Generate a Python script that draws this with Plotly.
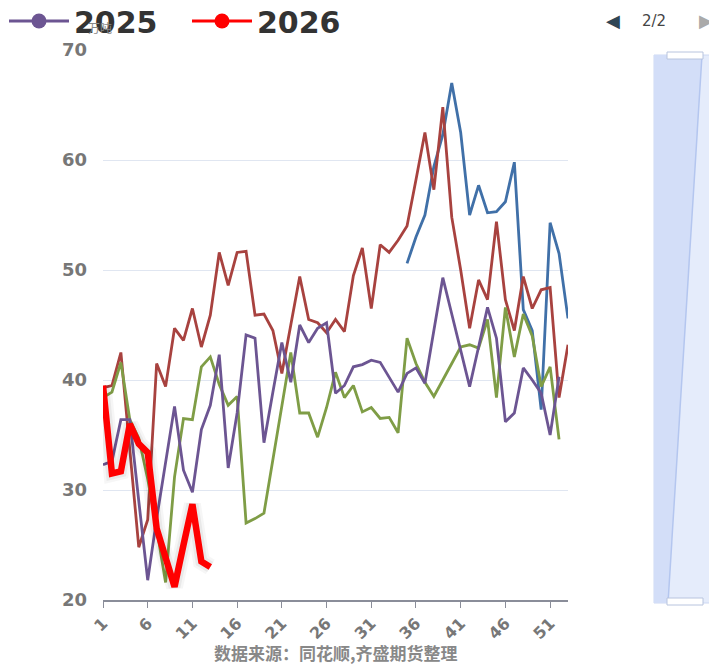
import plotly.graph_objects as go

# weekly data, week 1..53
weeks = list(range(1, 54))

# 2022 (blue) only has data from week 35
y2022 = [None] * 34 + [50.6, 53.0, 55.0, 59.4, 62.3, 67.0, 62.5, 55.0, 57.7, 55.2,
                       55.3, 56.2, 59.8, 46.4, 44.5, 37.3, 54.3, 51.5, 45.6]

y2023 = [39.3, 39.5, 42.5, 34.0, 24.8, 27.3, 41.5, 39.4, 44.7, 43.6,
         46.5, 43.0, 45.9, 51.6, 48.6, 51.6, 51.7, 45.9, 46.0, 44.5,
         40.6, 45.0, 49.4, 45.5, 45.2, 44.3, 45.5, 44.4, 49.5, 52.0,
         46.5, 52.3, 51.6, 52.7, 54.0, 58.2, 62.5, 57.3, 64.8, 54.8,
         50.0, 44.7, 49.1, 47.3, 54.4, 47.3, 44.5, 49.4, 46.5, 48.2,
         48.4, 38.4, 43.2]

y2024 = [38.4, 38.9, 41.6, 36.4, 34.7, 31.0, 26.5, 21.6, 31.2, 36.5,
         36.4, 41.2, 42.1, 39.6, 37.7, 38.5, 27.0, 27.4, 27.9, 32.7,
         37.7, 42.5, 37.0, 37.0, 34.8, 37.5, 40.7, 38.4, 39.5, 37.1,
         37.5, 36.5, 36.6, 35.2, 43.8, 41.5, 39.8, 38.5, 40.0, 41.5,
         43.0, 43.2, 42.9, 45.5, 38.4, 46.6, 42.1, 46.0, 44.0, 39.4,
         41.2, 34.6]

y2025 = [32.3, 32.6, 36.4, 36.4, 29.0, 21.8, 27.4, 32.5, 37.6, 31.8,
         29.8, 35.5, 37.7, 42.3, 32.0, 37.0, 44.1, 43.8, 34.3, 38.9,
         43.4, 39.8, 45.0, 43.4, 44.7, 45.2, 38.8, 39.5, 41.2, 41.4,
         41.8, 41.6, 40.3, 38.9, 40.6, 41.1, 39.7, 44.5, 49.3, 46.0,
         42.6, 39.4, 43.0, 46.6, 43.8, 36.2, 37.0, 41.1, 40.0, 38.8,
         35.0, 40.3]

y2026 = [39.5, 31.5, 31.7, 36.0, 34.2, 33.4, 26.5, 23.7, 21.2, 25.0,
         28.7, 23.5, 23.0]

xtick_vals = list(range(1, 53, 5))

# the page body has an 8px margin, so the figure sits 8px in from the window
OFF = 8
W, H = 717 - OFF, 664 - OFF
L, R, T, B = 103 - OFF, 568 - OFF, 50 - OFF, 600 - OFF   # plot area


def px(x):
    # window pixel -> paper x
    return (x - OFF - L) / (R - L)


def py(y):
    # window pixel -> paper y
    return (B - (y - OFF)) / (B - T)


fig = go.Figure()

series = [
    ("2022", y2022, "#4070a8"),
    ("2023", y2023, "#a8423f"),
    ("2024", y2024, "#7f9d46"),
    ("2025", y2025, "#6c5592"),
]
for name, ys, color in series:
    fig.add_trace(go.Scatter(
        x=weeks[:len(ys)], y=ys, mode="lines", name=name,
        line=dict(color=color, width=2.8),
        showlegend=False, hoverinfo="skip"
    ))

# soft shadow under the 2026 line
for w, a in [(17, 0.035), (12, 0.05)]:
    fig.add_trace(go.Scatter(
        x=weeks[:len(y2026)], y=y2026, mode="lines",
        line=dict(color=f"rgba(0,0,0,{a})", width=w),
        showlegend=False, hoverinfo="skip"
    ))
fig.add_trace(go.Scatter(
    x=weeks[:len(y2026)], y=y2026, mode="lines", name="2026",
    line=dict(color="#ff0000", width=6.5),
    showlegend=False
))

# legend entries (page 2/2 of the original legend)
for name, color in [("2025", "#6c5592"), ("2026", "#ff0000")]:
    fig.add_trace(go.Scatter(
        x=[None], y=[None], mode="lines+markers", name=name,
        line=dict(color=color, width=3),
        marker=dict(color=color, size=15)
    ))

shapes = []
# data zoom slider on the right
shapes.append(dict(type="rect", xref="paper", yref="paper",
                   x0=px(654), x1=px(716), y0=py(603), y1=py(55),
                   fillcolor="#e5ecfb", line=dict(color="#cdd8f2", width=1),
                   layer="above"))
path = (f"M{px(654)},{py(55)} L{px(702)},{py(55)} L{px(668)},{py(603)} "
        f"L{px(654)},{py(603)} Z")
shapes.append(dict(type="path", xref="paper", yref="paper", path=path,
                   fillcolor="#d3def8", line=dict(width=0), layer="above"))
shapes.append(dict(type="line", xref="paper", yref="paper",
                   x0=px(702), y0=py(55), x1=px(668), y1=py(603),
                   line=dict(color="#b4c6ef", width=1.5), layer="above"))
for y0, y1 in [(52, 59), (598, 605)]:
    shapes.append(dict(type="rect", xref="paper", yref="paper",
                       x0=px(667), x1=px(703), y0=py(y1), y1=py(y0),
                       fillcolor="white", line=dict(color="#b8c4de", width=1),
                       layer="above"))


def label(text, x, y, size, color, family="DejaVu Sans", weight="normal"):
    return dict(text=text, x=px(x), y=py(y), xref="paper", yref="paper",
                xanchor="center", yanchor="middle", showarrow=False,
                font=dict(size=size, color=color, family=family, weight=weight))


annotations = [
    label("万吨", 100, 27, 12, "#888", "Noto Sans CJK SC"),
    label("◀", 613, 21, 18, "#2f4554"),
    label("2/2", 654, 21, 15, "#444"),
    label("▶", 706, 21, 18, "#aaaaaa"),
    label("数据来源：同花顺,齐盛期货整理", 336, 652, 17, "#888",
          "Noto Sans CJK SC", "bold"),
]

fig.update_layout(
    width=W, height=H,
    margin=dict(l=L, r=W - R, t=T, b=H - B, autoexpand=False),
    plot_bgcolor="white", paper_bgcolor="white",
    shapes=shapes, annotations=annotations,
    showlegend=True,
    legend=dict(
        orientation="h", xref="paper", yref="paper",
        x=px(4), y=py(-5), xanchor="left", yanchor="top",
        font=dict(size=30, color="#333", family="DejaVu Sans", weight="bold"),
        itemwidth=60, entrywidth=108, entrywidthmode="pixels",
        bgcolor="rgba(0,0,0,0)", itemclick=False
    ),
    xaxis=dict(
        range=[1, 53], tickmode="array", tickvals=xtick_vals,
        tickangle=-45, showgrid=False, zeroline=False,
        showline=True, linecolor="#8a8d99", linewidth=1.5,
        ticks="outside", ticklen=6, tickcolor="#8a8d99",
        tickfont=dict(size=16, color="#777", family="DejaVu Sans", weight="bold"),
        automargin=False
    ),
    yaxis=dict(
        range=[20, 70], dtick=10, showgrid=True, gridcolor="#e0e6f1",
        zeroline=False, showline=False, ticks="",
        tickfont=dict(size=18, color="#777", family="DejaVu Sans", weight="bold"),
        ticklabelstandoff=15, automargin=False
    ),
)

fig.write_html("out.html")
